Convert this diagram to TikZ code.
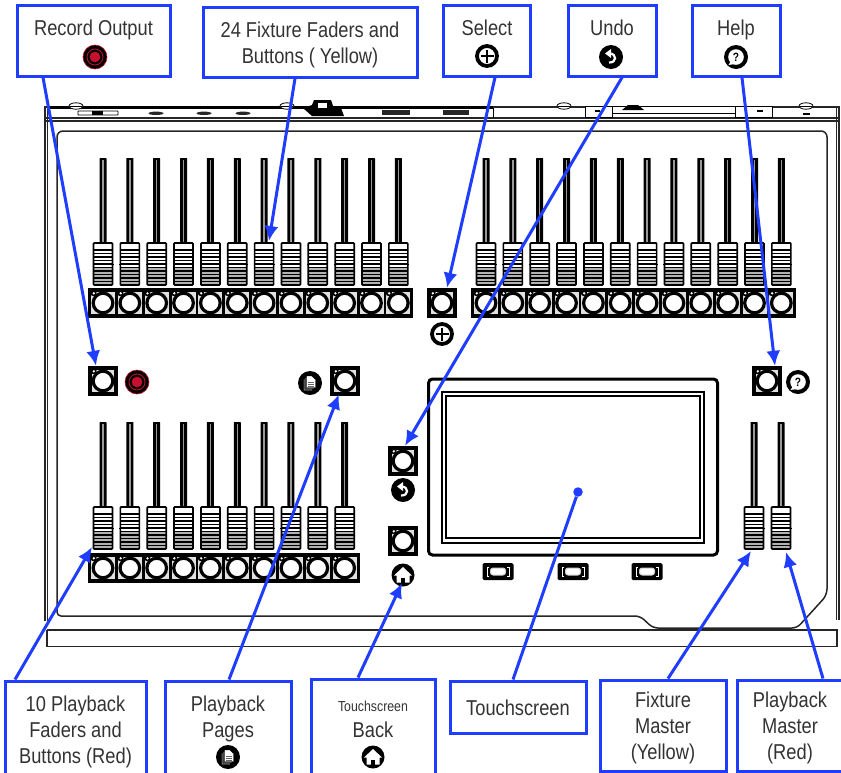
\documentclass[tikz,border=0pt]{standalone}
\usepackage{fontspec}
\setmainfont[FakeStretch=0.85]{Liberation Sans}
\usetikzlibrary{arrows.meta}
\definecolor{cblue}{HTML}{1F3DFF}
\definecolor{ctext}{HTML}{333333}
\definecolor{cred}{HTML}{C8102E}
\tikzset{
 lbl/.style={draw=cblue,line width=3pt,fill=white,text=ctext,inner sep=0pt,
   font=\fontsize{21.5}{26}\selectfont},
 conn/.style={draw=cblue,line width=3pt},
 arr/.style={conn,-{Latex[length=15pt,width=14pt]}},
 panel/.style={draw=black!85,line width=1.5pt},
}
\newcommand{\tl}[1]{\raisebox{-3pt}[\height][\depth]{\begin{tabular}{@{}c@{}}#1\end{tabular}}}
\newcommand{\slotk}[1]{% fader #1 = x , uses \fy = top of slot
  \fill[black,rounded corners=.5pt] (#1-3.5,\fy) rectangle (#1+3.5,\fy+84);
  \fill[white!60!black] (#1-.7,\fy+2) rectangle (#1+.7,\fy+84);
  \fill[white] (#1-9.5,\fy+85) rectangle (#1+9.5,\fy+127);
  \fill[black!30] (#1-9.5,\fy+109) rectangle (#1+9.5,\fy+127);
  \foreach \s in {0,...,9}{\draw[black,line width=1.3pt] (#1-9.5,\fy+92+\s*3.5) -- (#1+9.5,\fy+92+\s*3.5);}
  \draw[black,line width=1.8pt] (#1-10.5,\fy+106.5) -- (#1+10.5,\fy+106.5);
  \draw[black,line width=1.7pt,rounded corners=.8pt] (#1-9.5,\fy+85) rectangle (#1+9.5,\fy+127);
}
\newcommand{\ringb}[2]{% ring at x,y
  \fill[black] (#1-9.5,#2-10) circle (3.2);
  \fill[white] (#1-9.2,#2-9.7) circle (1.3);
  \draw[black,line width=3.2pt,fill=white] (#1,#2) circle (9.8);
}
\newcommand{\btnk}[3]{% name x y
  \node[fill=black,minimum size=30pt,inner sep=0pt] (#1) at (#2,#3) {};
  \fill[white!88!black] (#2-11,#3-11) rectangle (#2+11,#3+11);
  \ringb{#2}{#3}
}
\newcommand{\stripk}[3]{% x0 n y : buttons centred on x0+26.9i
  \pgfmathsetmacro{\xl}{#1-15}\pgfmathsetmacro{\xr}{#1+26.85*(#2-1)+15}
  \fill[black] (\xl,#3-15) rectangle (\xr,#3+15);
  \foreach \i in {1,...,#2}{
    \pgfmathsetmacro{\xc}{#1+26.85*(\i-1)}
    \fill[white!88!black] (\xc-12,#3-11.5) rectangle (\xc+12,#3+11);
    \ringb{\xc}{#3}
  }
}
\newcommand{\recico}[2]{
  \fill[black] (#1,#2) circle (12);\draw[cred,line width=.6pt] (#1,#2) circle (12);
  \draw[cred,line width=.8pt] (#1,#2) circle (8);
  \fill[cred] (#1,#2) circle (5.3);
}
\newcommand{\plusico}[2]{
  \draw[black,line width=3.8pt,fill=white] (#1,#2) circle (10);
  \draw[black,line width=1.3pt] (#1-6.5,#2) -- (#1+6.5,#2) (#1,#2-6.5) -- (#1,#2+6.5);
}
\newcommand{\undoico}[2]{
  \fill[black] (#1,#2) circle (12);
  \draw[white,line width=2.2pt] (#1-1.5,#2-3.5) .. controls (#1+6,#2-3.5) and (#1+6,#2+6) .. (#1-2,#2+5.5);
  \fill[white] (#1-6,#2-3.5) -- (#1,#2-8) -- (#1,#2+1) -- cycle;
}
\newcommand{\helpico}[2]{
  \fill[black] (#1,#2) circle (12);
  \fill[white] (#1,#2) circle (7.8);
  \fill[white] (#1-5,#2+4) -- (#1-7.5,#2+8) -- (#1-1,#2+7) -- cycle;
  \node[inner sep=0pt,text=black,font=\fontsize{12}{12}\bfseries\selectfont] at (#1,#2) {?};
}
\newcommand{\pageico}[2]{
  \fill[black] (#1,#2) circle (12);
  \foreach \d/\c in {3.2/black!45,1.6/black!70,0/white}{
    \fill[\c,draw=black,line width=.4pt] (#1-3.5-\d,#2-7+\d) -- (#1+2-\d,#2-7+\d) -- (#1+5.5-\d,#2-3.5+\d) -- (#1+5.5-\d,#2+4.5+\d) -- (#1-3.5-\d,#2+4.5+\d) -- cycle;
  }
  \draw[black!60,line width=.7pt] (#1-2,#2-1) -- (#1+4,#2-1) (#1-2,#2+1) -- (#1+4,#2+1) (#1-2,#2+3) -- (#1+4,#2+3);
}
\newcommand{\homeico}[2]{
  \fill[black] (#1,#2) circle (11.5);
  \fill[white] (#1,#2-8) -- (#1+9,#2+.5) -- (#1+6.5,#2+.5) -- (#1+6.5,#2+7.5) -- (#1-6.5,#2+7.5) -- (#1-6.5,#2+.5) -- (#1-9,#2+.5) -- cycle;
  \fill[black] (#1-1.8,#2+2.5) rectangle (#1+1.8,#2+7.5);
}
\newcommand{\smallb}[1]{
  \fill[black,rounded corners=1.5pt] (#1-15.5,563) rectangle (#1+15.5,580);
  \draw[white,line width=1pt] (#1-9,567) -- (#1-11,567) -- (#1-11,576) -- (#1-9,576);
  \draw[white,line width=1pt] (#1+9,567) -- (#1+11,567) -- (#1+11,576) -- (#1+9,576);
  \draw[white!80!black,line width=1pt,fill=white,rounded corners=2.5pt] (#1-7.5,568) rectangle (#1+7.5,575);
}
\newcommand{\screw}[2]{
  \draw[black,line width=.8pt,fill=white] (#1,#2) ellipse (7 and 3.2);
  \draw[black,line width=.6pt] (#1-6,#2) -- (#1+6,#2);
}
\begin{document}
\begin{tikzpicture}[x=1pt,y=-1pt]
\useasboundingbox (0,0) rectangle (841,772);
\clip (0,0) rectangle (841,772);
\fill[white] (0,0) rectangle (841,772);
% console outline
\draw[panel,line width=1.6pt] (45,621) -- (45,107) -- (839,107) -- (839,620);
\draw[panel] (47.5,108) -- (47.5,621);
\draw[panel] (836.5,108) -- (836.5,620);
\draw[panel] (45,118) -- (839,118);
\draw[panel] (45,121) -- (839,121);
\draw[panel] (47,630) -- (837,630) -- (837,646.5) -- (47,646.5) -- (47,630);
\draw[panel] (57,137) [rounded corners=6pt] -- (57,131) -- (827,131) -- (827,595) [rounded corners=5pt] -- (797,628) -- (653,628) -- (640,616) [rounded corners=4pt] -- (57,616) -- (57,137);
% top hardware
\draw[black,line width=2.6pt] (47,107.5) -- (493,107.5);
\screw{76}{106}
\draw[black,line width=.8pt,fill=white,rounded corners=.5pt] (78,111) rectangle (118,115);
\fill[black] (92,111) rectangle (103,115);
\foreach \x in {156,204,243}{\fill[black!85] (\x,113.3) ellipse (7.5 and 1.7);}
\screw{287}{106}
\fill[black] (303,108) -- (312,105) -- (314,100) -- (331,100) -- (333,106) -- (341,108) -- (344,116) -- (312,116) -- cycle;
\fill[white] (318,103) rectangle (327,108);
\fill[black!85] (382,109.5) rectangle (410,115);
\fill[black!85] (443,109.5) rectangle (469,114.5);
\draw[black,line width=1pt] (493,108) -- (493,118);
\screw{564}{106}
\draw[black,line width=1pt,fill=white] (585,106) rectangle (612,117);
\draw[black,line width=1pt,fill=white] (735,106) rectangle (772,117);
\draw[black,line width=1pt,fill=white] (612,106) rectangle (735,113);
\fill[black] (622,110) -- (628,105) -- (638,105) -- (644,110) -- cycle;
\fill[black] (595,110) rectangle (600,111.5);
\fill[black] (757,110) rectangle (763,111.5);
\screw{806}{106}
\fill[black] (803,113) rectangle (810,114.5);
% faders
\def\fy{158}
\foreach \i in {0,...,11}{\pgfmathsetmacro{\xf}{103+26.85*\i}\slotk{\xf}}
\foreach \i in {0,...,11}{\pgfmathsetmacro{\xf}{486+26.85*\i}\slotk{\xf}}
\def\fy{422}
\foreach \i in {0,...,9}{\pgfmathsetmacro{\xf}{103+26.85*\i}\slotk{\xf}}
\slotk{754}\slotk{781}
% buttons
\stripk{103}{12}{303}
\stripk{486}{12}{303}
\stripk{103}{10}{568}
\btnk{bsel}{442}{303}
\btnk{brec}{103}{381}
\btnk{bpag}{345}{381}
\btnk{bund}{403}{461}
\btnk{bhom}{403}{541}
\btnk{bhlp}{767}{381}
% panel icons
\plusico{442}{334}
\recico{137}{382}
\pageico{310}{383}
\undoico{403}{490}
\homeico{403}{575}
\helpico{798}{382}
% touchscreen
\draw[black,line width=3pt,rounded corners=4pt] (428.5,379) rectangle (717.5,555);
\draw[black,line width=1.2pt] (442,392) rectangle (704,543);
\draw[black,line width=2pt] (446,396) rectangle (700,538);
\smallb{498}\smallb{573}\smallb{647}
% label boxes
\node[lbl,minimum width=153pt,minimum height=71pt] (lrec) at (93.5,40.5) {\tl{Record Output\\\phantom{X}}};
\node[lbl,minimum width=214pt,minimum height=70pt] (lfix) at (310,42) {\tl{24 Fixture Faders and\\Buttons ( Yellow)}};
\node[lbl,minimum width=87pt,minimum height=71pt] (lsel) at (487,40.5) {\tl{Select\\\phantom{X}}};
\node[lbl,minimum width=88pt,minimum height=71pt] (lund) at (612,40.5) {\tl{Undo\\\phantom{X}}};
\node[lbl,minimum width=88pt,minimum height=71pt] (lhlp) at (736,40.5) {\tl{Help\\\phantom{X}}};
\node[lbl,minimum width=141pt,minimum height=96pt] (lpb) at (75.5,729) {\tl{10 Playback\\Faders and\\Buttons (Red)}};
\node[lbl,minimum width=126pt,minimum height=96pt] (lpp) at (228,729) {\tl{Playback\\Pages\\\phantom{X}}};
\node[lbl,minimum width=124pt,minimum height=100pt] (ltb) at (373,729) {\tl{{\fontsize{14.5}{26}\selectfont Touchscreen}\\Back\\\phantom{X}}};
\node[lbl,minimum width=136pt,minimum height=52pt] (lts) at (518,707) {\tl{Touchscreen}};
\node[lbl,minimum width=126pt,minimum height=91pt] (lfm) at (663,725.5) {\tl{Fixture\\Master\\(Yellow)}};
\node[lbl,minimum width=106pt,minimum height=91pt] (lpm) at (790,725.5) {\tl{Playback\\Master\\(Red)}};
% label icons
\recico{95}{57}
\plusico{487}{56}
\undoico{611}{57}
\helpico{736}{57}
\pageico{228}{757}
\homeico{373}{757}
% targets
\coordinate (tfix) at (269,241);
\coordinate (tpb) at (92,547);
\coordinate (thom) at (402,583);
\coordinate (tfm) at (751,551);
\coordinate (tpm) at (786,552);
\node[circle,fill=cblue,minimum size=9.5pt,inner sep=0pt] (dot) at (578,492) {};
% connectors
\draw[arr] ([xshift=-50.5pt]lrec.south) -- ([xshift=-7pt]brec.north);
\draw[arr] ([xshift=-15pt]lfix.south) -- (tfix);
\draw[arr] ([xshift=8pt]lsel.south) -- ([xshift=5pt]bsel.north);
\draw[arr] ([xshift=10pt]lund.south) -- ([xshift=2pt]bund.north);
\draw[arr] ([xshift=6pt]lhlp.south) -- ([xshift=8pt]bhlp.north);
\draw[arr] ([xshift=-60.5pt]lpb.north) -- (tpb);
\draw[arr] ([xshift=1pt]lpp.north) -- ([xshift=-6pt,yshift=2pt]bpag.south);
\draw[arr] ([xshift=-15pt]ltb.north) -- (thom);
\draw[conn] ([xshift=-5pt]lts.north) -- (dot);
\draw[arr] ([xshift=5pt]lfm.north) -- (tfm);
\draw[arr] ([xshift=33pt]lpm.north) -- (tpm);
\end{tikzpicture}
\end{document}
